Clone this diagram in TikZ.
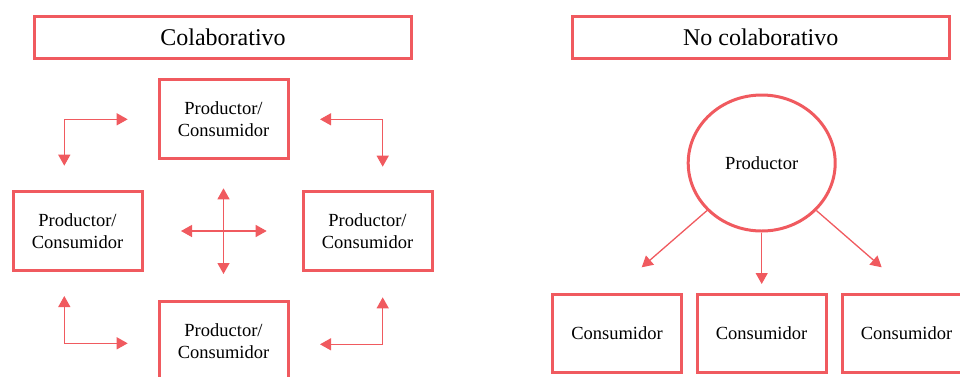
\documentclass[tikz,border=0pt]{standalone}
\usepackage{fontspec}
\setmainfont{Liberation Serif}
\usetikzlibrary{arrows.meta,shapes.geometric}
\definecolor{coral}{RGB}{240,90,95}
\tikzset{
  titlebox/.style={draw=coral,line width=3pt,minimum width=377pt,minimum height=42pt,inner sep=0pt,font=\fontsize{24}{28}\selectfont},
  pcbox/.style={draw=coral,line width=3pt,minimum width=129pt,minimum height=79pt,inner sep=0pt,align=center,font=\fontsize{18.5}{22}\selectfont},
  conbox/.style={pcbox,minimum height=78pt},
  arr/.style={draw=coral,line width=1.3pt,{Triangle[length=11pt,width=12pt]}-{Triangle[length=11pt,width=12pt]}},
  onearr/.style={draw=coral,line width=1.3pt,-{Triangle[length=11pt,width=12pt]}}
}

\begin{document}
\begin{tikzpicture}[x=1pt,y=-1pt]
\useasboundingbox (0,0) rectangle (960,376);
\clip (0,0) rectangle (960,376);
% colaborativo
\node[titlebox] (colab) at (223,37.5) {Colaborativo};
\node[pcbox] (pctop) at (223.5,119) {Productor/\\Consumidor};
\node[pcbox] (pcleft) at (77.5,231) {Productor/\\Consumidor};
\node[pcbox] (pcright) at (367.5,231) {Productor/\\Consumidor};
\node[pcbox] (pcbottom) at (223.5,341) {Productor/\\Consumidor};
\coordinate (cn) at (223.5,188.3);
\coordinate (cs) at (223.5,274);
\coordinate (cw) at (181,231);
\coordinate (ce) at (266.7,231);
\draw[arr] (cn) -- (cs);
\draw[arr] (cw) -- (ce);
\coordinate (tla) at (127.7,119.3);
\coordinate (tlb) at (64.3,165.7);
\coordinate (tra) at (320,119.3);
\coordinate (trb) at (382.7,166.7);
\coordinate (bla) at (64.3,296);
\coordinate (blb) at (127.7,343.3);
\coordinate (bra) at (320,344.3);
\coordinate (brb) at (382.7,297.3);
\draw[arr] (tla) -| (tlb);
\draw[arr] (tra) -| (trb);
\draw[arr] (bla) |- (blb);
\draw[arr] (bra) -| (brb);
% no colaborativo
\node[titlebox] (nocolab) at (760.7,37.5) {No colaborativo};
\node[ellipse,draw=coral,line width=3pt,minimum width=147pt,minimum height=136pt,inner sep=0pt,font=\fontsize{18.5}{22}\selectfont] (prod) at (761.7,163) {Productor};
\node[conbox] (con1) at (617,333.5) {Consumidor};
\node[conbox] (con2) at (761.5,333.5) {Consumidor};
\node[conbox] (con3) at (906.5,333.5) {Consumidor};
\coordinate (t1) at (641.7,267.3);
\coordinate (t2) at (761.7,284);
\coordinate (t3) at (881.7,267.3);
\draw[onearr] (prod) -- (t1);
\draw[onearr] (prod) -- (t2);
\draw[onearr] (prod) -- (t3);
\end{tikzpicture}
\end{document}
